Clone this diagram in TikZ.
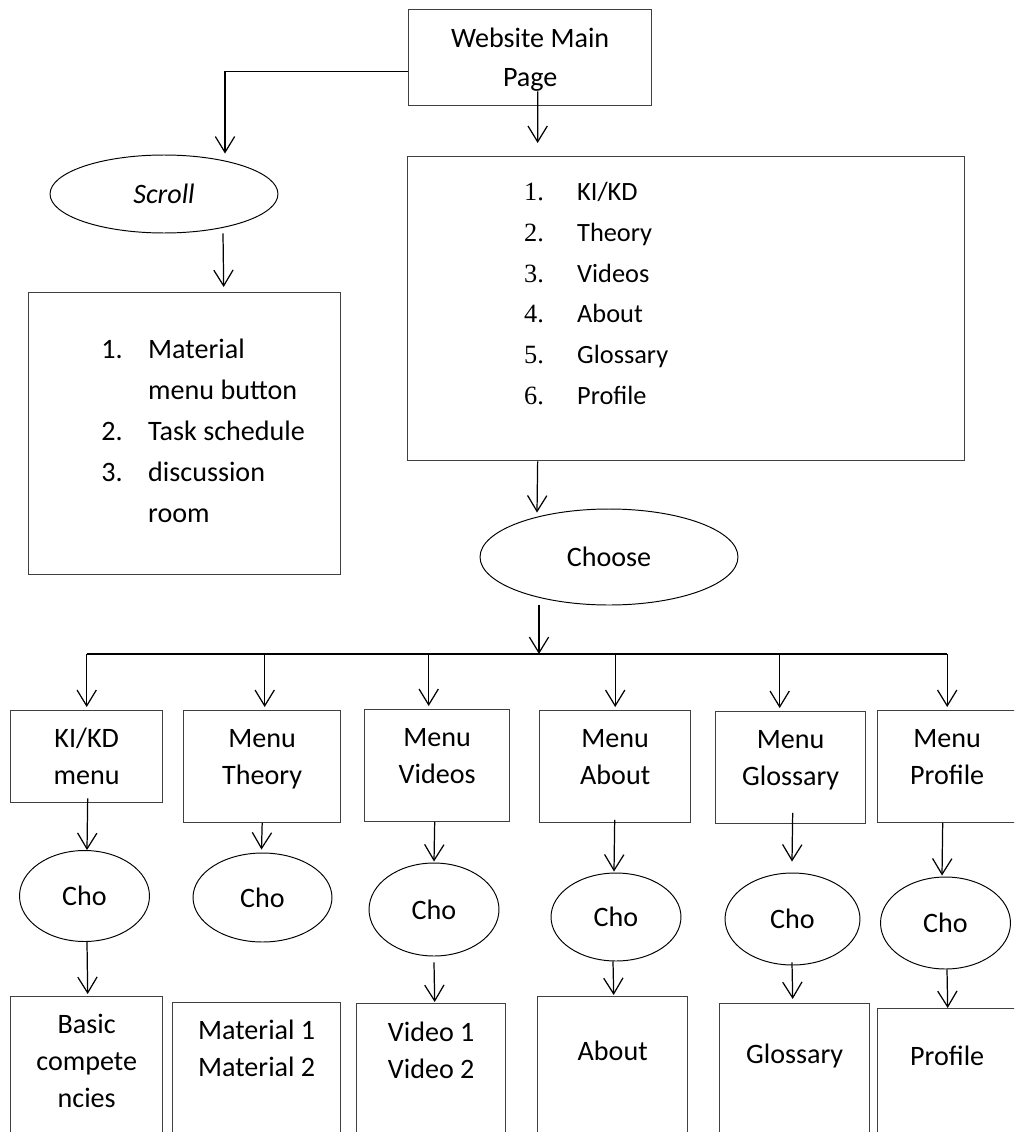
\documentclass[tikz,border=0pt]{standalone}
\usepackage{fontspec}
\setmainfont{Carlito}
\newfontfamily\numfont{Liberation Serif}
\usetikzlibrary{arrows.meta, shapes.geometric, calc}
\newcommand{\boxlines}[1]{\begin{tabular}[t]{@{}c@{}}#1\end{tabular}}
\tikzset{
    box/.style={
        rectangle, draw=black!75, line width=0.8pt,
        inner sep=0pt, anchor=north west,
        font=\fontsize{16pt}{21pt}\selectfont,
        text height=21pt
    },
    menubox/.style={box, text depth=42.5pt},
    leafbox/.style={box, text depth=80pt},
    listbox/.style={
        rectangle, draw=black!75, line width=0.8pt,
        inner sep=0pt, anchor=north west
    },
    oval/.style={
        ellipse, draw=black, line width=0.55pt, inner sep=0pt,
        font=\fontsize{16pt}{21pt}\selectfont
    },
    arrow/.style={-{Straight Barb[length=9pt, width=11pt]}, line width=0.7pt},
    busline/.style={line width=0.7pt}
}
\begin{document}
\begin{tikzpicture}[x=0.02cm, y=-0.02cm]
    \useasboundingbox (0,0) rectangle (1014,1132);
    \clip (0,0) rectangle (1014,1132);

    % top part
    \node[box, minimum width=4.86cm, text height=21.6pt, text depth=33pt,
          font=\fontsize{16pt}{22.2pt}\selectfont] (main) at (408,9) {\boxlines{Website Main\\Page}};
    \node[oval, minimum width=4.56cm, minimum height=1.56cm,
          font=\fontsize{16pt}{21pt}\selectfont\itshape] (scroll) at (164,194) {Scroll};
    \node[listbox, minimum width=6.24cm, text height=37.6pt, text depth=122.9pt,
          font=\fontsize{16pt}{23.3pt}\selectfont] (sidelist) at (28,292)
        {\hspace*{21pt}\begin{tabular}[t]{@{}p{26.7pt}@{}l@{}}
            1. & Material\\
               & menu button\\
            2. & Task schedule\\
            3. & discussion\\
               & room
        \end{tabular}};
    \node[listbox, minimum width=11.14cm, text height=25pt, text depth=148pt,
          font=\fontsize{15pt}{23.2pt}\selectfont] (list) at (407,156)
        {\begin{tabular}[t]{@{}p{30.2pt}@{}l@{}}
            {\numfont 1.} & KI/KD\\
            {\numfont 2.} & Theory\\
            {\numfont 3.} & Videos\\
            {\numfont 4.} & About\\
            {\numfont 5.} & Glossary\\
            {\numfont 6.} & Profile
        \end{tabular}\hspace*{102.4pt}};
    \node[oval, minimum width=5.16cm, minimum height=1.92cm] (choose) at (609,557) {Choose};

    % menu row
    \node[menubox, minimum width=3.04cm, text depth=31.3pt] (kikd) at (10,710) {\boxlines{KI/KD\\menu}};
    \node[menubox, minimum width=3.14cm] (theory) at (183,710) {\boxlines{Menu\\Theory}};
    \node[menubox, minimum width=2.9cm] (videos) at (364,709) {\boxlines{Menu\\Videos}};
    \node[menubox, minimum width=3.02cm] (about) at (539,710) {\boxlines{Menu\\About}};
    \node[menubox, minimum width=3.0cm] (glossary) at (715,711) {\boxlines{Menu\\Glossary}};
    \node[menubox, minimum width=2.78cm] (profile) at (877,710) {\boxlines{Menu\\Profile}};

    \node[oval, minimum width=2.6cm, minimum height=1.82cm] (cho1) at (84.5,896) {Cho};
    \node[oval, minimum width=2.78cm, minimum height=1.78cm] (cho2) at (262.5,897.5) {Cho};
    \node[oval, minimum width=2.6cm, minimum height=1.86cm] (cho3) at (434,909.5) {Cho};
    \node[oval, minimum width=2.6cm, minimum height=1.76cm] (cho4) at (616,917) {Cho};
    \node[oval, minimum width=2.7cm, minimum height=1.84cm] (cho5) at (792.5,919) {Cho};
    \node[oval, minimum width=2.6cm, minimum height=1.84cm] (cho6) at (945.5,923) {Cho};

    \node[leafbox, minimum width=3.04cm] (res1) at (10,996) {\boxlines{Basic\\compete\\ncies}};
    \node[leafbox, minimum width=3.36cm] (res2) at (172,1002) {\boxlines{Material 1\\Material 2}};
    \node[leafbox, minimum width=2.98cm, text height=21.5pt] (res3) at (356,1003) {\boxlines{Video 1\\Video 2}};
    \node[leafbox, minimum width=3.0cm, text height=36.2pt] (res4) at (537,996) {About};
    \node[leafbox, minimum width=3.0cm, text height=34.1pt] (res5) at (719,1003) {Glossary};
    \node[leafbox, minimum width=2.78cm, text height=32.4pt] (res6) at (877,1008) {Profile};

    \coordinate (hub) at (539,654);

    \draw[arrow] ($(main.west)+(0,14)$) -| ($(scroll.north)+(61,-1)$);
    \draw[arrow] ($(main.south)+(7.5,-15)$) -- ($(list.north)+(-148.5,-13)$);
    \draw[arrow] ($(scroll.south)+(59,0)$) -- ($(sidelist.north)+(39,-5)$);
    \draw[arrow] ($(list.south)+(-148.5,0)$) -- ($(choose.north)+(-72,4)$);
    \draw[arrow] ($(choose.south)+(-70,0)$) -- (hub);

    % bus to the six menus
    \draw[busline] (kikd.north |- hub) -- (profile.north |- hub);
    \foreach \b/\dx in {kikd/0, theory/2.5, videos/-8.5, about/0, glossary/-11, profile/0}
        \draw[arrow] ($(\b.north |- hub)+(\dx,0)$) -- ($(\b.north)+(\dx,-3)$);

    \draw[arrow] ($(kikd.south)+(1,-5)$) -- ($(cho1.north)+(2.5,0)$);
    \draw[arrow] (theory.south) -- ($(cho2.north)+(-1,-3)$);
    \draw[arrow] ($(videos.south)+(-2.5,0)$) -- ($(cho3.north)+(0,-1)$);
    \draw[arrow] ($(about.south)+(-0.5,-3)$) -- ($(cho4.north)+(-2,-1)$);
    \draw[arrow] ($(glossary.south)+(2,-11)$) -- ($(cho5.north)+(-0.5,-11)$);
    \draw[arrow] ($(profile.south)+(-4.5,0)$) -- ($(cho6.north)+(-3.5,-1)$);

    \draw[arrow] ($(cho1.south)+(2.5,0)$) -- ($(res1.north)+(1,-2)$);
    \draw[arrow] ($(cho3.south)+(0,6)$) -- ($(res3.north)+(3.5,-1)$);
    \draw[arrow] ($(cho4.south)+(-3,0)$) -- ($(res4.north)+(1,-1)$);
    \draw[arrow] ($(cho5.south)+(-0.5,-3)$) -- ($(res5.north)+(-2,-4)$);
    \draw[arrow] ($(cho6.south)+(1.5,0)$) -- ($(res6.north)+(0.5,0)$);
\end{tikzpicture}
\end{document}
